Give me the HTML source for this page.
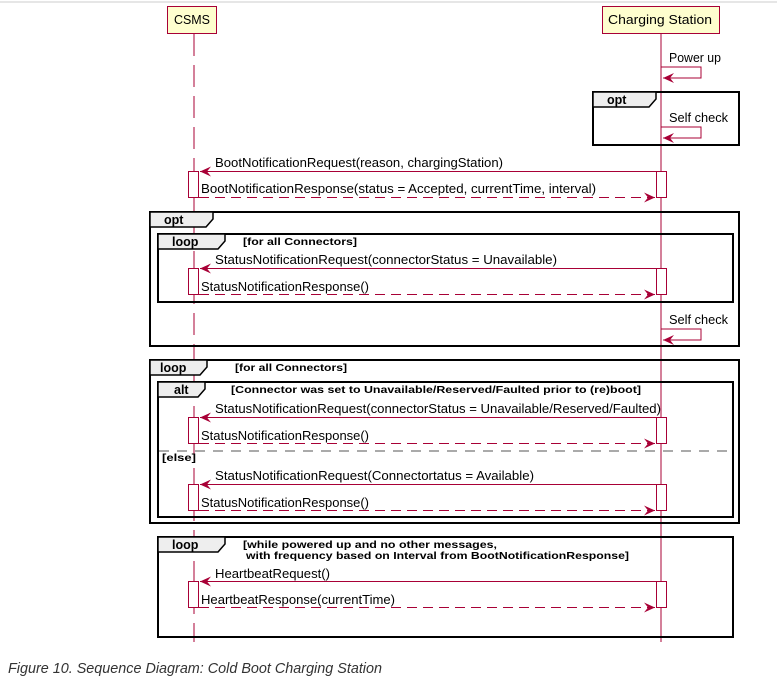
<!DOCTYPE html>
<html><head><meta charset="utf-8"><style>
body{margin:0;background:#fff;width:777px;height:684px;overflow:hidden}
svg{display:block}
text{font-family:"Liberation Sans",sans-serif}
.m{font-size:12.5px;fill:#000}
.b{font-size:10.5px;font-weight:bold;fill:#000}
.t{font-size:12.5px;font-weight:bold;fill:#000}
</style></head><body>
<svg width="777" height="684" viewBox="0 0 777 684" xmlns="http://www.w3.org/2000/svg">
<defs>
<marker id="ah" markerWidth="12" markerHeight="12" refX="11" refY="6" orient="auto" markerUnits="userSpaceOnUse">
<path d="M0,1 L11,6 L0,11 L4,6 Z" fill="#a80036"/></marker>
</defs>
<line x1="0" y1="2" x2="777" y2="2" stroke="#e6e6e6" stroke-width="2"/>
<line x1="194" y1="34" x2="194" y2="642" stroke="#a80036" stroke-width="1" stroke-dasharray="22,9"/>
<line x1="661" y1="34" x2="661" y2="642" stroke="#a80036" stroke-width="1"/>
<rect x="167.5" y="6.5" width="49" height="27" fill="#fefece" stroke="#a80036"/>
<text x="174" y="24" class="m" textLength="36" lengthAdjust="spacingAndGlyphs">CSMS</text>
<rect x="602.5" y="6.5" width="117" height="27" fill="#fefece" stroke="#a80036"/>
<text x="608" y="24" class="m" textLength="104" lengthAdjust="spacingAndGlyphs">Charging Station</text>

<g fill="none" stroke="#a80036">
<polyline points="661,67 701,67 701,78 663,78" marker-end="url(#ah)"/>
<polyline points="661,127 701,127 701,138 663,138" marker-end="url(#ah)"/>
<polyline points="661,329 701,329 701,340 663,340" marker-end="url(#ah)"/>
</g>
<text x="669" y="62" class="m" textLength="52" lengthAdjust="spacingAndGlyphs">Power up</text>
<text x="669" y="122" class="m" textLength="59" lengthAdjust="spacingAndGlyphs">Self check</text>
<text x="669" y="324" class="m" textLength="59" lengthAdjust="spacingAndGlyphs">Self check</text>

<g fill="none" stroke="#000" stroke-width="2">
<rect x="593" y="92" width="146" height="53"/>
<rect x="150" y="212" width="589" height="134"/>
<rect x="158" y="234" width="575" height="68"/>
<rect x="150" y="360" width="589" height="163"/>
<rect x="158" y="382" width="575" height="135"/>
<rect x="158" y="537" width="575" height="100"/>
</g>
<g fill="#eee" stroke="#000" stroke-width="1.5">
<path d="M593,92 L656,92 L656,99 L649,107 L593,107 Z"/>
<path d="M150,212 L213,212 L213,219 L206,227 L150,227 Z"/>
<path d="M158,234 L225,234 L225,241 L218,249 L158,249 Z"/>
<path d="M150,360 L207,360 L207,367 L200,375 L150,375 Z"/>
<path d="M158,382 L205,382 L205,389 L198,397 L158,397 Z"/>
<path d="M158,537 L225,537 L225,544 L218,552 L158,552 Z"/>
</g>
<text x="607" y="104" class="t">opt</text>
<text x="164" y="224" class="t">opt</text>
<text x="172" y="246" class="t">loop</text>
<text x="243" y="245" class="b" textLength="114" lengthAdjust="spacingAndGlyphs">[for all Connectors]</text>
<text x="160" y="372" class="t">loop</text>
<text x="235" y="371" class="b" textLength="112" lengthAdjust="spacingAndGlyphs">[for all Connectors]</text>
<text x="174" y="394" class="t">alt</text>
<text x="231" y="393" class="b" textLength="410" lengthAdjust="spacingAndGlyphs">[Connector was set to Unavailable/Reserved/Faulted prior to (re)boot]</text>
<line x1="159" y1="451" x2="732" y2="451" stroke="#555" stroke-dasharray="10,8"/>
<text x="162" y="461" class="b" textLength="34" lengthAdjust="spacingAndGlyphs">[else]</text>
<text x="172" y="549" class="t">loop</text>
<text x="243" y="548" class="b" textLength="254" lengthAdjust="spacingAndGlyphs">[while powered up and no other messages,</text>
<text x="246" y="559" class="b" textLength="383" lengthAdjust="spacingAndGlyphs">with frequency based on Interval from BootNotificationResponse]</text>

<g fill="#fff" stroke="#a80036">
<rect x="188.5" y="171.5" width="10" height="26"/><rect x="656.5" y="171.5" width="10" height="26"/>
<rect x="188.5" y="268.5" width="10" height="26"/><rect x="656.5" y="268.5" width="10" height="26"/>
<rect x="188.5" y="417.5" width="10" height="26"/><rect x="656.5" y="417.5" width="10" height="26"/>
<rect x="188.5" y="484.5" width="10" height="26"/><rect x="656.5" y="484.5" width="10" height="26"/>
<rect x="188.5" y="581.5" width="10" height="26"/><rect x="656.5" y="581.5" width="10" height="26"/>
</g>
<g fill="none" stroke="#a80036">
<line x1="656" y1="171.5" x2="200" y2="171.5" marker-end="url(#ah)"/>
<line x1="199" y1="197.5" x2="655" y2="197.5" stroke-dasharray="10,6" marker-end="url(#ah)"/>
<line x1="656" y1="268.5" x2="200" y2="268.5" marker-end="url(#ah)"/>
<line x1="199" y1="294.5" x2="655" y2="294.5" stroke-dasharray="10,6" marker-end="url(#ah)"/>
<line x1="656" y1="417.5" x2="200" y2="417.5" marker-end="url(#ah)"/>
<line x1="199" y1="443.5" x2="655" y2="443.5" stroke-dasharray="10,6" marker-end="url(#ah)"/>
<line x1="656" y1="484.5" x2="200" y2="484.5" marker-end="url(#ah)"/>
<line x1="199" y1="510.5" x2="655" y2="510.5" stroke-dasharray="10,6" marker-end="url(#ah)"/>
<line x1="656" y1="581.5" x2="200" y2="581.5" marker-end="url(#ah)"/>
<line x1="199" y1="607.5" x2="655" y2="607.5" stroke-dasharray="10,6" marker-end="url(#ah)"/>
</g>
<text x="215" y="167" class="m" textLength="288" lengthAdjust="spacingAndGlyphs">BootNotificationRequest(reason, chargingStation)</text>
<text x="201" y="193" class="m" textLength="395" lengthAdjust="spacingAndGlyphs">BootNotificationResponse(status = Accepted, currentTime, interval)</text>
<text x="215" y="264" class="m" textLength="342" lengthAdjust="spacingAndGlyphs">StatusNotificationRequest(connectorStatus = Unavailable)</text>
<text x="201" y="291" class="m" textLength="168" lengthAdjust="spacingAndGlyphs">StatusNotificationResponse()</text>
<text x="215" y="413" class="m" textLength="446" lengthAdjust="spacingAndGlyphs">StatusNotificationRequest(connectorStatus = Unavailable/Reserved/Faulted)</text>
<text x="201" y="440" class="m" textLength="168" lengthAdjust="spacingAndGlyphs">StatusNotificationResponse()</text>
<text x="215" y="480" class="m" textLength="319" lengthAdjust="spacingAndGlyphs">StatusNotificationRequest(Connectortatus = Available)</text>
<text x="201" y="507" class="m" textLength="168" lengthAdjust="spacingAndGlyphs">StatusNotificationResponse()</text>
<text x="215" y="578" class="m" textLength="115" lengthAdjust="spacingAndGlyphs">HeartbeatRequest()</text>
<text x="201" y="604" class="m" textLength="194" lengthAdjust="spacingAndGlyphs">HeartbeatResponse(currentTime)</text>

<text x="8" y="673" font-size="15" font-style="italic" fill="#333" textLength="374" lengthAdjust="spacingAndGlyphs">Figure 10. Sequence Diagram: Cold Boot Charging Station</text>
</svg>
</body></html>
